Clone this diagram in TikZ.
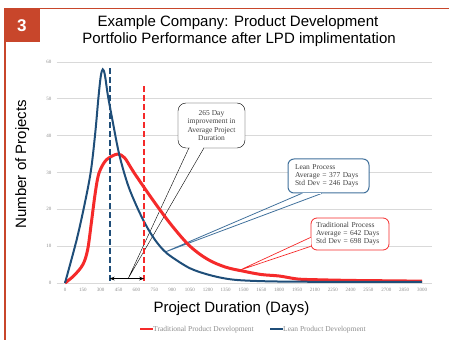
\documentclass[tikz,border=0pt]{standalone}
\usepackage{fontspec}
\setmainfont{Liberation Serif}
\newfontfamily\headfont{Liberation Sans}
\usetikzlibrary{arrows.meta, calc}
\definecolor{rust}{HTML}{C8462B}
\definecolor{leanblue}{HTML}{1F4E79}
\definecolor{leanedge}{HTML}{41719C}
\definecolor{tradred}{HTML}{F52A2A}
\definecolor{gridgray}{HTML}{D9D9D9}
\definecolor{lblgray}{HTML}{8C8C8C}
\definecolor{notegray}{HTML}{404040}
\tikzset{
    gridln/.style={draw=gridgray, line width=0.9pt},
    ticklbl/.style={font=\fontsize{5}{6}\selectfont, text=lblgray, inner sep=0pt},
    lean/.style={draw=leanblue, line width=2pt},
    trad/.style={draw=tradred, line width=3pt},
    mean/.style={line width=2pt, dash pattern=on 6pt off 3pt},
    note/.style={draw, rounded corners=6pt, fill=white, inner sep=0pt, text=notegray,
        font=\fontsize{7.5}{8.2}\selectfont},
    big/.style={font=\headfont\fontsize{15}{17}\selectfont}
}

\begin{document}
\begin{tikzpicture}[x=1pt, y=1pt]
    \useasboundingbox (0,0) rectangle (449,340);

    % frame and number
    \draw[rust, line width=1.5pt] (4,331.5) -- (449,331.5);
    \draw[rust, line width=1.2pt] (5,331.5) -- (5,0);
    \node[fill=rust, minimum width=35.5pt, minimum height=34pt, inner sep=0pt, anchor=north west,
        text=white, font=\headfont\bfseries\fontsize{17}{17}\selectfont] (num) at (4,332) {3};

    % titles
    \node[big, anchor=base] (title1) at (238,313.3) {Example Company: Product Development};
    \node[big, anchor=base] (title2) at (239,296) {Portfolio Performance after LPD implimentation};
    \node[big, rotate=90, anchor=base] (ylbl) at (26,175.8) {Number of Projects};
    \node[big, anchor=base] (xlbl) at (231.5,27.3) {Project Duration (Days)};

    % grid, ticks
    \begin{scope}[shift={(65,57)}, x=0.119pt, y=3.683pt]
        \foreach \v in {0,10,...,60} {
            \draw[gridln] (-70,\v) -- (3082,\v);
            \node[ticklbl, anchor=east] (yt\v) at (-112,\v) {\v};
        }
        \foreach \d in {0,150,...,3000}
            \node[ticklbl] (xt\d) at (\d,-1.9) {\d};

        \coordinate (imptip) at (532,1.3);
        \coordinate (leantip) at (840,8.4);
        \coordinate (tradtip) at (1470,3.5);
        \coordinate (lbot) at (375,0.6);
        \coordinate (ltop) at (375,58.5);
        \coordinate (tbot) at (665,0.6);
        \coordinate (ttop) at (665,53.5);
        \coordinate (la) at (375,1.2);
        \coordinate (ta) at (665,1.2);
    \end{scope}

    % notes
    \node[note, align=center, minimum width=67pt, minimum height=45pt, rounded corners=8pt] (imp) at (211.5,214.5)
        {265 Day\\improvement in\\Average Project\\Duration};
    \node[note, draw=leanedge, line width=1pt, align=left, text width=67pt, inner xsep=7pt,
        minimum height=34pt] (leannote) at (328.5,164) {Lean Process\\Average = 377 Days\\Std Dev = 246 Days};
    \node[note, draw=tradred, line width=0.8pt, align=left, text width=68pt, inner xsep=5pt,
        minimum height=32pt] (tradnote) at (350,106) {Traditional Process\\Average = 642 Days\\Std Dev = 698 Days};

    % note pointers
    \draw (imp.south west) ++(11,0) coordinate (imp1) -- (imptip) -- ($(imp.south west)+(26,0)$) coordinate (imp2);
    \draw[white, line width=1.5pt] ($(imp1)+(0.8,0)$) -- ($(imp2)+(-0.8,0)$);
    \draw[leanedge, line width=0.8pt] (leannote.south west) ++(14,0) coordinate (lean1) -- (leantip)
        -- ($(leannote.south west)+(34,0)$) coordinate (lean2);
    \draw[white, line width=1.5pt] ($(lean1)+(1,0)$) -- ($(lean2)+(-1,0)$);
    \draw[tradred, line width=0.7pt] (tradnote.south west) ++(0,4) coordinate (trad1) -- (tradtip)
        -- ($(tradnote.south west)+(0,13)$) coordinate (trad2);
    \draw[white, line width=1.5pt] ($(trad1)+(0,1)$) -- ($(trad2)+(0,-1)$);

    % legend
    \node[anchor=base west, inner sep=0pt, text=lblgray, font=\fontsize{7.5}{8}\selectfont] (legtrad) at (153,8.3)
        {Traditional Product Development};
    \node[anchor=base west, inner sep=0pt, text=lblgray, font=\fontsize{7.5}{8}\selectfont] (leglean) at (283,8.3)
        {Lean Product Development};
    \draw[trad, line width=2.5pt] (140,11) -- (legtrad.west |- 0,11);
    \draw[lean] (270,11) -- (leglean.west |- 0,11);

    \begin{scope}[shift={(65,57)}, x=0.119pt, y=3.683pt]
        % curves
        \draw[trad] plot[smooth, tension=0.55] coordinates {(0,0) (75,2) (150,5) (190,9) (220,16) (250,23.5)
            (275,28.5) (300,31) (350,33.5) (440,35) (500,34) (550,31.5) (600,29) (750,22) (900,15.5)
            (1050,10) (1200,6.4) (1350,4.3) (1500,3.2) (1650,2.3) (1800,1.9) (1950,1.1) (2100,0.9)
            (2400,0.7) (2700,0.6) (3000,0.5)};
        \draw[lean] plot[smooth, tension=0.55] coordinates {(0,0) (100,12) (175,23) (220,31) (255,41)
            (280,50) (300,56) (317,58) (335,56.5) (360,51) (400,44) (455,35) (525,27) (600,21) (675,16)
            (750,12) (825,9) (900,7) (1050,4) (1200,2.3) (1350,1.2) (1500,0.7) (1800,0.4) (2400,0.3)
            (3000,0.3)};

        % averages
        \draw[mean, leanblue] (lbot) -- (ltop);
        \draw[mean, tradred] (tbot) -- (ttop);
        \draw[{Stealth[length=5pt]}-{Stealth[length=5pt]}, line width=1.5pt] (la) -- (ta);
    \end{scope}
\end{tikzpicture}
\end{document}
